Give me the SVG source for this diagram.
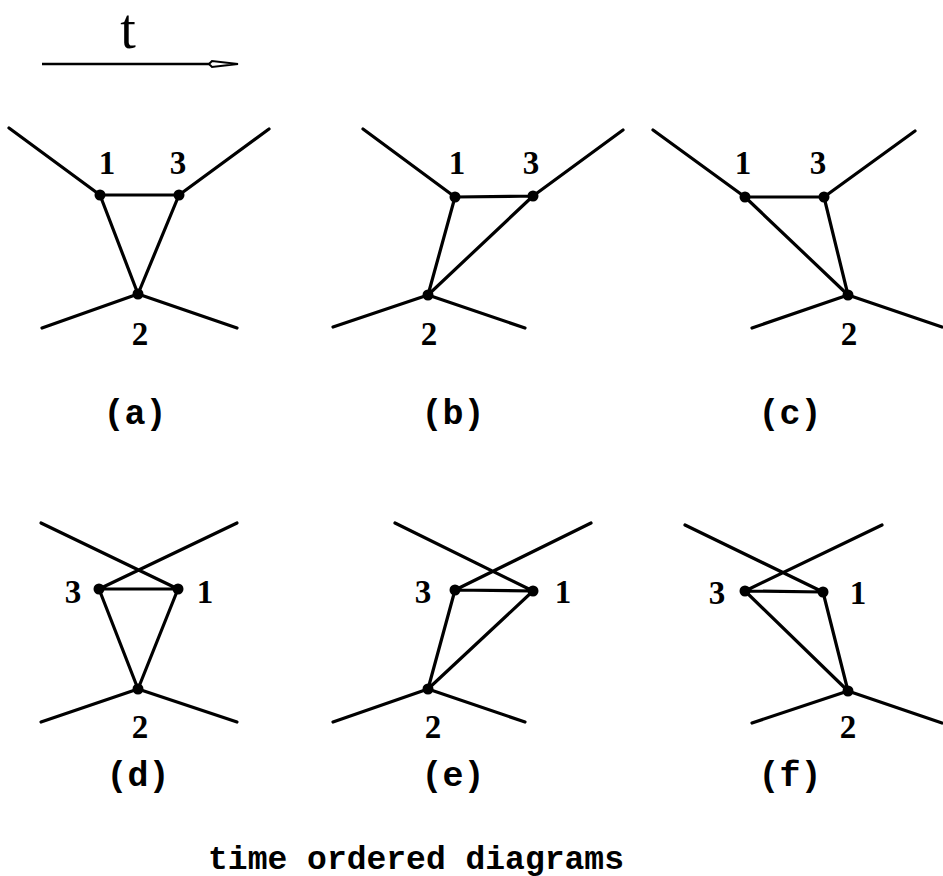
<svg xmlns="http://www.w3.org/2000/svg" width="943" height="876" viewBox="0 0 943 876">
<style>
.ln{stroke:#000;stroke-width:3.2;stroke-linecap:round;fill:none}
.dot{fill:#000}
.num{font-family:"Liberation Serif",serif;font-size:33px;font-weight:bold;text-anchor:middle;fill:#000}
.cap{font-family:"Liberation Mono",monospace;font-size:35px;font-weight:bold;text-anchor:middle;fill:#000}
</style>
<rect width="943" height="876" fill="#fff"/>
<g id="time-axis">
<line x1="42" y1="64" x2="212" y2="64" stroke="#000" stroke-width="2.5"/>
<path d="M209,64 L212,61 L238,64 L212,67 Z" fill="#fff" stroke="#000" stroke-width="2"/>
<text x="128" y="48" font-family="Liberation Serif,serif" font-size="56" text-anchor="middle">t</text>
</g>
<g id="connectors">
<path class="ln" d="M9,128 L100,195 M269,129 L179,195 M42,328 L138,294 M237,328 L138,294 M100,195 L179,195 M100,195 L138,294 M179,195 L138,294"/>
<path class="ln" d="M363,129 L455,197 M623,130 L533,196 M333,327 L428,295 M525,328 L428,295 M455,197 L533,196 M455,197 L428,295 M533,196 L428,295"/>
<path class="ln" d="M653,130 L745,197 M915,131 L824,197 M752,328 L848,295 M942,327 L848,295 M745,197 L824,197 M745,197 L848,295 M824,197 L848,295"/>
<path class="ln" d="M41,523 L178,589 M237,523 L99,589 M41,722 L138,689 M237,722 L138,689 M99,589 L178,589 M99,589 L138,689 M178,589 L138,689"/>
<path class="ln" d="M395,523 L533,591 M591,523 L455,590 M333,722 L428,689 M525,722 L428,689 M455,590 L533,591 M455,590 L428,689 M533,591 L428,689"/>
<path class="ln" d="M685,525 L823,592 M882,525 L745,591 M752,723 L848,691 M942,723 L848,691 M745,591 L823,592 M745,591 L848,691 M823,592 L848,691"/>
</g>
<g id="diagram-a">
<circle class="dot" cx="100" cy="195" r="5.5"/><circle class="dot" cx="179" cy="195" r="5.5"/><circle class="dot" cx="138" cy="294" r="5.5"/>
<text class="num" x="107" y="174">1</text><text class="num" x="178" y="174">3</text><text class="num" x="140" y="345">2</text>
<text class="cap" x="135" y="424">(a)</text>
</g>
<g id="diagram-b">
<circle class="dot" cx="455" cy="197" r="5.5"/><circle class="dot" cx="533" cy="196" r="5.5"/><circle class="dot" cx="428" cy="295" r="5.5"/>
<text class="num" x="457" y="174">1</text><text class="num" x="531" y="174">3</text><text class="num" x="429" y="345">2</text>
<text class="cap" x="453" y="424">(b)</text>
</g>
<g id="diagram-c">
<circle class="dot" cx="745" cy="197" r="5.5"/><circle class="dot" cx="824" cy="197" r="5.5"/><circle class="dot" cx="848" cy="295" r="5.5"/>
<text class="num" x="743" y="174">1</text><text class="num" x="818" y="174">3</text><text class="num" x="849" y="345">2</text>
<text class="cap" x="790" y="424">(c)</text>
</g>
<g id="diagram-d">
<circle class="dot" cx="99" cy="589" r="5.5"/><circle class="dot" cx="178" cy="589" r="5.5"/><circle class="dot" cx="138" cy="689" r="5.5"/>
<text class="num" x="73" y="603">3</text><text class="num" x="205" y="603">1</text><text class="num" x="140" y="738">2</text>
<text class="cap" x="138" y="786">(d)</text>
</g>
<g id="diagram-e">
<circle class="dot" cx="455" cy="590" r="5.5"/><circle class="dot" cx="533" cy="591" r="5.5"/><circle class="dot" cx="428" cy="689" r="5.5"/>
<text class="num" x="423" y="603">3</text><text class="num" x="563" y="603">1</text><text class="num" x="433" y="738">2</text>
<text class="cap" x="453" y="786">(e)</text>
</g>
<g id="diagram-f">
<circle class="dot" cx="745" cy="591" r="5.5"/><circle class="dot" cx="823" cy="592" r="5.5"/><circle class="dot" cx="848" cy="691" r="5.5"/>
<text class="num" x="717" y="604">3</text><text class="num" x="858" y="604">1</text><text class="num" x="848" y="738">2</text>
<text class="cap" x="790" y="786">(f)</text>
</g>
<g id="title">
<text x="416" y="869" font-family="Liberation Mono,monospace" font-size="33" font-weight="bold" text-anchor="middle">time ordered diagrams</text>
</g>
</svg>
